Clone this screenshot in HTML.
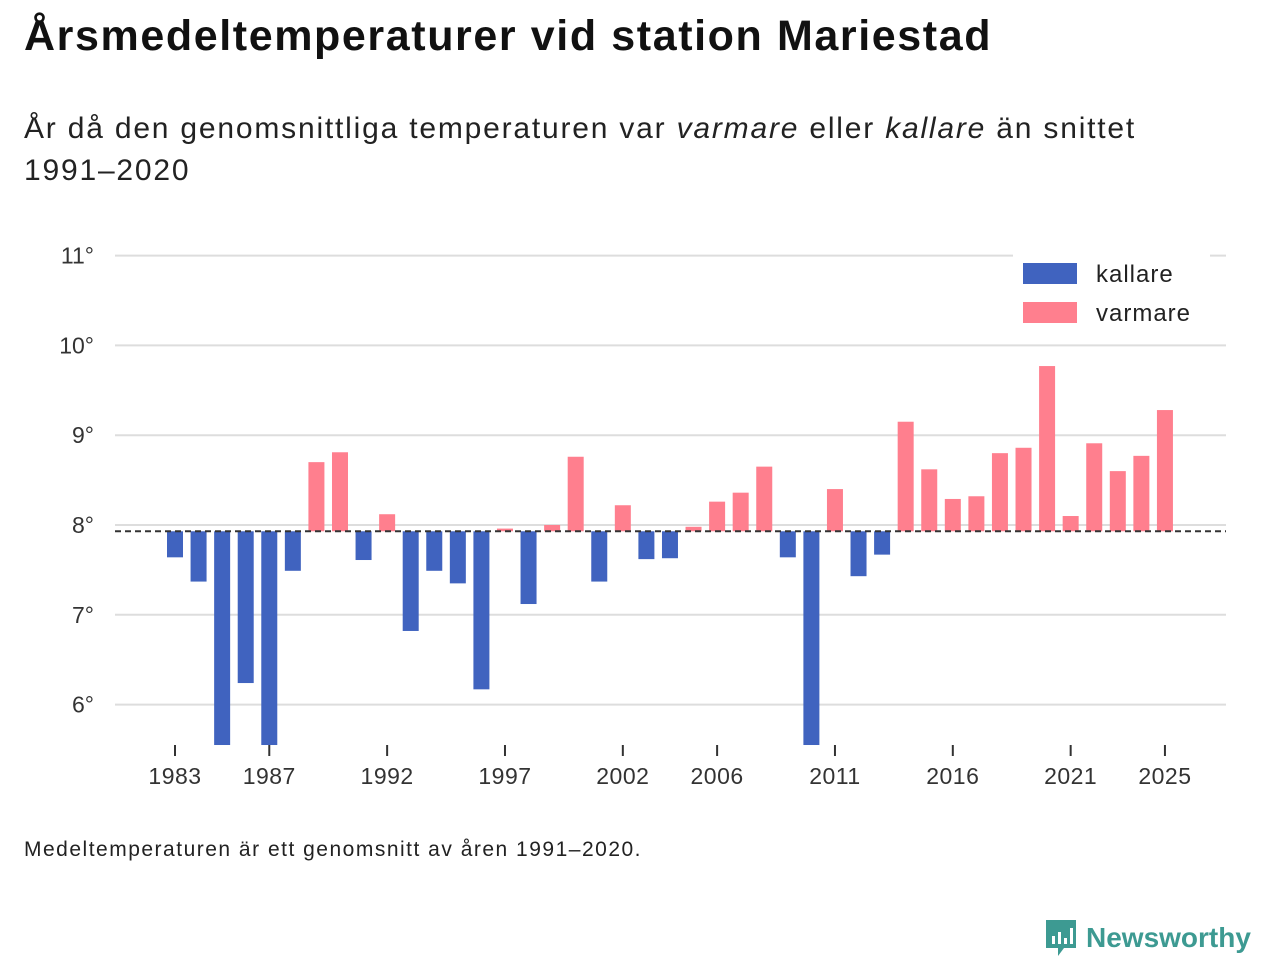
<!DOCTYPE html>
<html><head><meta charset="utf-8"><style>
body{margin:0;background:#fff;width:1280px;height:960px;overflow:hidden;font-family:"Liberation Sans","DejaVu Sans",sans-serif;color:#111}
h1{position:absolute;left:24px;top:12px;margin:0;font-size:43px;font-weight:bold;letter-spacing:1.6px}
.sub{position:absolute;left:24px;top:108px;font-size:30px;line-height:42px;color:#222;letter-spacing:1.8px}
.note{position:absolute;left:24px;top:838px;font-size:21px;color:#222;letter-spacing:1.5px}
.logo{position:absolute;left:1044px;top:918px;display:flex;align-items:center;gap:8px;color:#3d9a92;font-size:28px;font-weight:bold}
</style></head><body>
<h1>Årsmedeltemperaturer vid station Mariestad</h1>
<div class="sub">År då den genomsnittliga temperaturen var <i>varmare</i> eller <i>kallare</i> än snittet<br>1991–2020</div>
<svg id="chart" width="1280" height="960" style="position:absolute;left:0;top:0"></svg>
<div class="note">Medeltemperaturen är ett genomsnitt av åren 1991–2020.</div>
<div class="logo"><svg width="34" height="40" viewBox="0 0 34 40"><path d="M2 2h30v28H20l-6 8v-8H2z" fill="#3d9a92"/><rect x="8" y="18" width="3" height="8" fill="#fff"/><rect x="14" y="14" width="3" height="12" fill="#fff"/><rect x="20" y="20" width="3" height="6" fill="#fff"/><rect x="26" y="10" width="3" height="16" fill="#fff"/></svg><span>Newsworthy</span></div>
<script>
const years=[1983,1984,1985,1986,1987,1988,1989,1990,1991,1992,1993,1994,1995,1996,1997,1998,1999,2000,2001,2002,2003,2004,2005,2006,2007,2008,2009,2010,2011,2012,2013,2014,2015,2016,2017,2018,2019,2020,2021,2022,2023,2024,2025];
const temps=[7.64,7.37,5.4,6.24,5.4,7.49,8.70,8.81,7.61,8.12,6.82,7.49,7.35,6.17,7.96,7.12,8.0,8.76,7.37,8.22,7.62,7.63,7.98,8.26,8.36,8.65,7.64,5.4,8.40,7.43,7.67,9.15,8.62,8.29,8.32,8.80,8.86,9.77,8.10,8.91,8.60,8.77,9.28];
const yTicks=[6,7,8,9,10,11];
const xTicks=[1983,1987,1992,1997,2002,2006,2011,2016,2021,2025];
const baseline=7.93;
const svg=document.getElementById('chart');const NS='http://www.w3.org/2000/svg';
const yMin=5.55;
const y=v=>525-(Math.max(v,yMin)-8)*89.8;
const x=yr=>175+(yr-1983)*23.57;
function mk(t,a,txt){const e=document.createElementNS(NS,t);for(const k in a)e.setAttribute(k,a[k]);if(txt!==undefined)e.textContent=txt;svg.appendChild(e);return e;}
yTicks.forEach(v=>{
 const g=mk('line',{x1:115,x2:1226,y1:y(v),y2:y(v),stroke:'#ddd','stroke-width':2});
 
 
 const t=mk('text',{x:94,y:y(v)+8,'text-anchor':'end','font-size':23,fill:'#333'},v+'°');
 
 
});
years.forEach((yr,i)=>{
 const v=temps[i];const warm=v>=baseline;
 const top=warm?y(v):y(baseline),bot=warm?y(baseline):y(v);
 const r=mk('rect',{x:x(yr)-8,y:top,width:16,height:Math.max(bot-top,1),fill:warm?'#ff7f8e':'#4063bf'});
 
 
});
const bl=mk('line',{x1:115,x2:1226,y1:y(baseline),y2:y(baseline),stroke:'#333','stroke-width':2,'stroke-dasharray':'6,4'});


xTicks.forEach(yr=>{
 const l=mk('line',{x1:x(yr),x2:x(yr),y1:745,y2:756,stroke:'#333','stroke-width':2});
 
 
 const t=mk('text',{x:x(yr),y:784,'text-anchor':'middle','font-size':23,fill:'#333','letter-spacing':0.5},yr);
 
 
});
const lb=mk('rect',{x:1013,y:252,width:197,height:80,fill:'#fff'});


[['kallare','#4063bf',263],['varmare','#ff7f8e',302]].forEach(([n,c,yy])=>{
 const s=mk('rect',{x:1023,y:yy,width:54,height:21,fill:c});
 
 
 const t=mk('text',{x:1096,y:yy+19,'font-size':24,fill:'#222','letter-spacing':1},n);
 
 
});
</script>
</body></html>
